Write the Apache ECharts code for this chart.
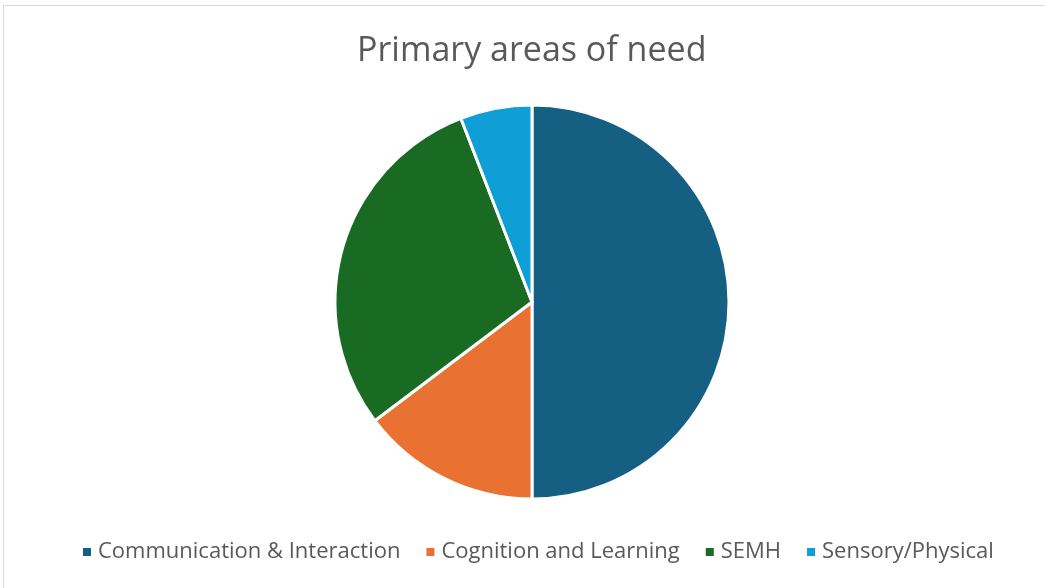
<!DOCTYPE html>
<html>
<head>
<meta charset="utf-8">
<script src="https://cdn.jsdelivr.net/npm/echarts@6/dist/echarts.min.js"></script>
<style>
  html, body { margin: 0; padding: 0; background: #ffffff; }
  #frame {
    position: absolute; left: 3px; top: 5px;
    width: 1100px; height: 640px;
    border: 1px solid #d9d9d9; box-sizing: border-box;
  }
  #chart { position: absolute; left: 0; top: 0; width: 1045px; height: 588px; }
</style>
</head>
<body>
<div id="frame"></div>
<div id="chart"></div>
<script>
const categories = ['Communication & Interaction', 'Cognition and Learning', 'SEMH', 'Sensory/Physical']
const values = [17, 5, 10, 2]
const colors = ['#156082', '#E97132', '#196B24', '#0F9ED5']

const chart = echarts.init(document.getElementById('chart'))

const option = {
  backgroundColor: 'transparent',
  animation: false,
  title: {
    text: 'Primary areas of need',
    left: 352,
    top: 29,
    textStyle: {
      fontFamily: 'Open Sans',
      fontSize: 34,
      fontWeight: 'normal',
      color: '#595959'
    }
  },
  legend: {
    bottom: 20,
    left: 76,
    icon: 'rect',
    itemWidth: 10,
    itemHeight: 10,
    itemGap: 24,
    textStyle: { fontFamily: 'Open Sans', fontSize: 22, color: '#595959', padding: [0, 0, 0, 1] },
    data: categories
  },
  series: [
    {
      type: 'pie',
      center: [532, 302],
      radius: 197,
      startAngle: 90,
      clockwise: true,
      label: { show: false },
      labelLine: { show: false },
      emphasis: { disabled: true },
      itemStyle: { borderColor: '#ffffff', borderWidth: 3 },
      data: categories.map((name, i) => ({
        name,
        value: values[i],
        itemStyle: { color: colors[i] }
      }))
    }
  ]
}

chart.setOption(option)
</script>
</body>
</html>
